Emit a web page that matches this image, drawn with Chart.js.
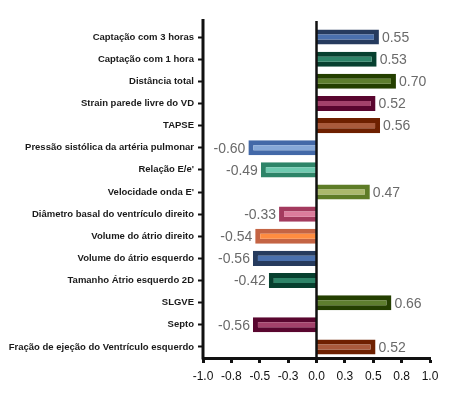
<!DOCTYPE html>
<html>
<head>
<meta charset="utf-8">
<script src="https://cdn.jsdelivr.net/npm/chart.js@4"></script>
<style>
html,body{margin:0;padding:0;background:#fff;}
#wrap{width:472px;height:395px;position:relative;}
</style>
</head>
<body>
<div id="wrap"><canvas id="c" width="472" height="395"></canvas></div>
<script>
const categories = [
  "Captação com 3 horas",
  "Captação com 1 hora",
  "Distância total",
  "Strain parede livre do VD",
  "TAPSE",
  "Pressão sistólica da artéria pulmonar",
  "Relação E/e'",
  "Velocidade onda E'",
  "Diâmetro basal do ventrículo direito",
  "Volume do átrio direito",
  "Volume do átrio esquerdo",
  "Tamanho Átrio esquerdo 2D",
  "SLGVE",
  "Septo",
  "Fração de ejeção do Ventrículo esquerdo"
];
const values = [0.55, 0.53, 0.70, 0.52, 0.56, -0.60, -0.49, 0.47, -0.33, -0.54, -0.56, -0.42, 0.66, -0.56, 0.52];
const borderColors = ["#263B5E","#07402F","#243F00","#59062F","#6E2000","#4369A8","#2D8468","#5E7C27","#A33A5E","#C46444","#263B5E","#07402F","#243F00","#59062F","#6E2000"];
const fillColors   = ["#4A70AD","#2E8468","#5E7E2E","#A3426B","#A95A3C","#86A8D8","#6FCAB0","#AAB86C","#DC7C9C","#FF8C40","#4A70AD","#2E8468","#5E7E2E","#A3426B","#A95A3C"];
const xTickMin = -1.0, xTickMax = 1.0, xTickStep = 0.25;

const FONT = '"Liberation Sans", Arial, sans-serif';

const overlay = {
  id: 'overlay',
  afterDatasetsDraw(chart) {
    const {ctx, chartArea, scales: {x}} = chart;
    ctx.save();
    ctx.strokeStyle = '#111';
    const x0 = x.getPixelForValue(0);
    ctx.lineWidth = 2.5;
    ctx.beginPath(); ctx.moveTo(x0, chartArea.top - 5); ctx.lineTo(x0, chartArea.bottom); ctx.stroke();
    ctx.lineWidth = 3;
    ctx.beginPath(); ctx.moveTo(chartArea.left, chartArea.top - 7); ctx.lineTo(chartArea.left, chartArea.bottom + 1.5); ctx.stroke();
    const meta = chart.getDatasetMeta(0);
    ctx.font = '14px ' + FONT;
    ctx.fillStyle = '#6a6a6a';
    ctx.textBaseline = 'middle';
    meta.data.forEach((bar, i) => {
      const v = values[i];
      ctx.textAlign = v >= 0 ? 'left' : 'right';
      ctx.fillText(v.toFixed(2), bar.x + (v >= 0 ? 3 : -3), bar.y + 1);
    });
    ctx.restore();
  }
};

new Chart(document.getElementById('c'), {
  type: 'bar',
  data: {
    labels: categories,
    datasets: [{
      data: values,
      backgroundColor: fillColors,
      borderColor: borderColors,
      borderWidth: 5,
      borderSkipped: 'start',
      barPercentage: 0.68,
      categoryPercentage: 1.0
    }]
  },
  options: {
    indexAxis: 'y',
    responsive: false,
    animation: false,
    layout: { padding: { top: 26, right: 42, bottom: 0, left: 0 } },
    plugins: { legend: { display: false }, tooltip: { enabled: false } },
    scales: {
      x: {
        min: xTickMin, max: xTickMax,
        afterFit(s) { s.height = 37; },
        ticks: { stepSize: xTickStep, callback: v => Number(v).toFixed(1), color: '#111', font: { family: FONT, size: 12 }, padding: 6, autoSkip: false, maxRotation: 0 },
        grid: { drawOnChartArea: false, drawTicks: true, tickLength: 5, tickWidth: 3, tickColor: '#111' },
        border: { display: true, color: '#111', width: 3 }
      },
      y: {
        afterFit(s) { s.width = 203; },
        ticks: { color: '#1a1a1a', font: { family: FONT, size: 9.5, weight: 'bold' }, padding: 4, autoSkip: false },
        grid: { drawOnChartArea: false, drawTicks: true, tickLength: 5, tickWidth: 2, tickColor: '#111', offset: false },
        border: { display: false }
      }
    }
  },
  plugins: [overlay]
});
</script>
</body>
</html>
